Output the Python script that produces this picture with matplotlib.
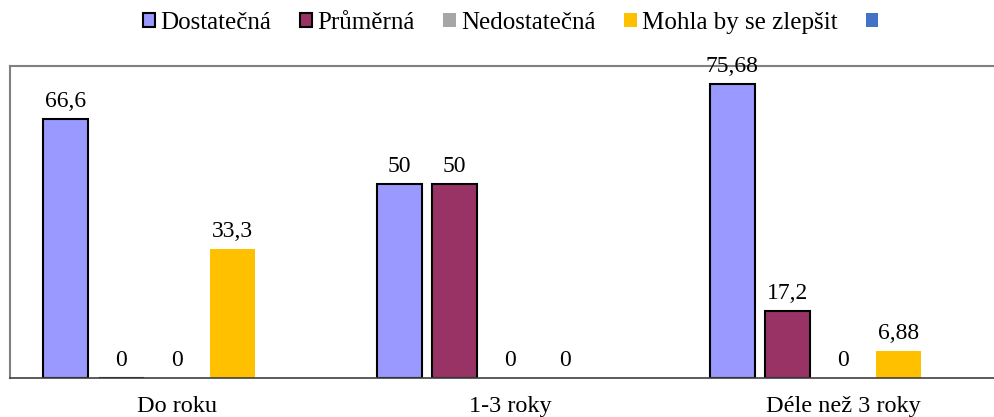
import matplotlib
matplotlib.use("Agg")
import matplotlib.pyplot as plt
from matplotlib.patches import Patch
import numpy as np

categories = ["Do roku", "1-3 roky", "Déle než 3 roky"]
series_names = ["Dostatečná", "Průměrná", "Nedostatečná", "Mohla by se zlepšit", ""]
dostatecna = [66.6, 50, 75.68]
prumerna = [0, 50, 17.2]
nedostatecna = [0, 0, 0]
mohla = [33.3, 0, 6.88]
extra = [np.nan, np.nan, np.nan]
value_labels = [["66,6", "50", "75,68"], ["0", "50", "17,2"], ["0", "0", "0"], ["33,3", "0", "6,88"], None]

colors = ["#9999FF", "#993366", "#A6A6A6", "#FFC000", "#4472C4"]
edges = ["black", "black", "none", "none", "none"]

plt.rcParams['font.family'] = ['Liberation Serif', 'DejaVu Serif']

fig = plt.figure(figsize=(9.95, 4.17), dpi=100)
ax = fig.add_axes([10/995, 39/417, 1000/995, 312/417])

series = [dostatecna, prumerna, nedostatecna, mohla, extra]
n = len(series)
x = np.arange(len(categories))
width = 45/333.5
step = 55.5/333.5
for i, (vals, c, e) in enumerate(zip(series, colors, edges)):
    pos = x + (i - (n - 1) / 2) * step
    bars = ax.bar(pos, vals, width=width, color=c, edgecolor=e,
                  linewidth=1.5 if e != "none" else 0, zorder=1)
    if value_labels[i] is not None:
        for p, v, lab in zip(pos, vals, value_labels[i]):
            ax.annotate(lab, (p, v), xytext=(0, 5), textcoords="offset points",
                        ha="center", va="bottom", fontsize=17)

ax.set_xlim(-0.5, 2.5)
ax.set_ylim(0, 80.3)
ax.set_yticks([])
ax.set_xticks(x)
ax.set_xticklabels(categories, fontsize=17.5)
ax.tick_params(axis="x", length=0, pad=13)
for s in ["left", "top", "right"]:
    ax.spines[s].set_color("#808080")
    ax.spines[s].set_linewidth(1.5)
ax.spines["bottom"].set_color("#404040")
ax.spines["bottom"].set_linewidth(1.2)
ax.spines["bottom"].set_zorder(3)

handles = [Patch(facecolor=c, edgecolor=("black" if e != "none" else c), linewidth=1.5 if e != "none" else 0)
           for c, e in zip(colors, edges)]
fig.legend(handles, series_names, loc="center", bbox_to_anchor=(513/995, 1 - 23/417), ncol=5,
           frameon=False, fontsize=18, handlelength=0.5, handleheight=0.5,
           handletextpad=0.2, columnspacing=1.15)

fig.savefig("out.png", dpi=100)
